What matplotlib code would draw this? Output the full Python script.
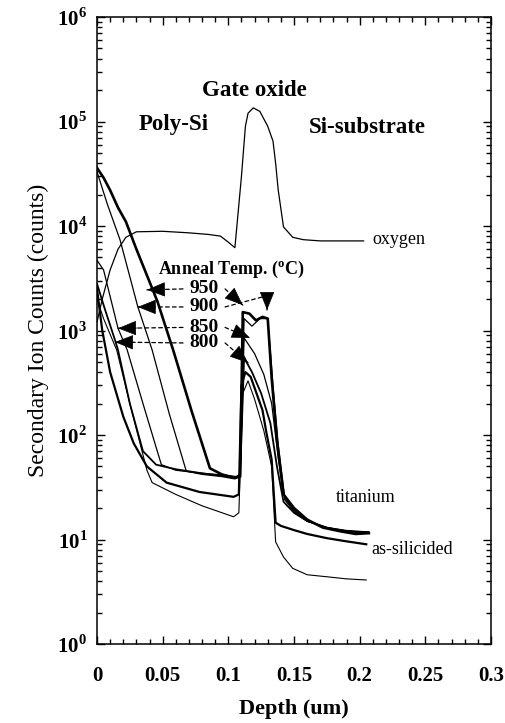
#!/usr/bin/env python

import numpy as np
import matplotlib
matplotlib.use('Agg')
import matplotlib.pyplot as plt
from matplotlib.ticker import FixedLocator, LogLocator, FuncFormatter, NullFormatter, MultipleLocator

# SIMS depth profiles (depth in um, secondary ion counts)
oxy_d = [0.0, 0.004, 0.01, 0.016, 0.022, 0.03, 0.05, 0.07, 0.085, 0.094, 0.1, 0.105,
         0.110, 0.113, 0.115, 0.119, 0.124, 0.130, 0.134, 0.136, 0.138, 0.142, 0.149,
         0.157, 0.17, 0.203]
oxy_c = [1.2e3, 2.0e3, 3.8e3, 6.0e3, 7.8e3, 8.8e3, 8.9e3, 8.6e3, 8.3e3, 8.0e3, 7.0e3, 6.2e3,
         3.0e4, 9.0e4, 1.2e5, 1.35e5, 1.25e5, 9.0e4, 6.5e4, 4.0e4, 2.2e4, 9.8e3, 7.8e3,
         7.4e3, 7.2e3, 7.2e3]

t950_d = [0, 0.005, 0.01, 0.016, 0.022, 0.03, 0.046, 0.058, 0.072, 0.086, 0.095, 0.104,
          0.109, 0.111, 0.116, 0.121, 0.126, 0.13, 0.133, 0.137, 0.142, 0.15, 0.16, 0.172,
          0.185, 0.197, 0.207]
t950_c = [3.6e4, 2.9e4, 2.2e4, 1.5e4, 1.1e4, 6e3, 1.9e3, 650, 170, 48, 42, 39,
          40, 1.5e3, 1.45e3, 1.25e3, 1.35e3, 1.3e3, 350, 90, 27, 20, 15.5, 13,
          12, 11.3, 11.5]

t900_d = [0, 0.008, 0.0175, 0.031, 0.042, 0.055, 0.068, 0.08, 0.095, 0.105, 0.109, 0.112,
          0.118, 0.124, 0.13, 0.134, 0.138, 0.143, 0.15, 0.16, 0.175, 0.19, 0.207]
t900_c = [3.3e4, 1.6e4, 7.4e3, 1.7e3, 650, 160, 45, 42, 40, 38, 40, 1.3e3,
          1.1e3, 1.3e3, 1.3e3, 300, 80, 25, 19, 15, 13, 12, 11.8]

t850_d = [0, 0.005, 0.016, 0.023, 0.035, 0.049, 0.06, 0.08, 0.1, 0.106, 0.109, 0.112,
          0.12, 0.127, 0.133, 0.138, 0.143, 0.15, 0.16, 0.175, 0.19, 0.207]
t850_c = [4.7e3, 3.8e3, 1.05e3, 650, 200, 52, 46, 43, 41, 40, 42, 850,
          600, 380, 200, 60, 24, 18.5, 15, 13, 12.2, 11.8]

t800_d = [0, 0.006, 0.0137, 0.016, 0.025, 0.035, 0.045, 0.06, 0.08, 0.1, 0.106, 0.109,
          0.112, 0.118, 0.125, 0.132, 0.137, 0.142, 0.15, 0.16, 0.175, 0.19, 0.207]
t800_c = [2.8e3, 1.6e3, 810, 650, 200, 70, 52, 47, 43, 40, 39, 41,
          550, 400, 250, 130, 50, 23, 18, 15, 13, 12, 11.5]

asil_d = [0, 0.004, 0.01, 0.02, 0.028, 0.038, 0.053, 0.078, 0.104, 0.108, 0.110, 0.113,
          0.117, 0.126, 0.129, 0.133, 0.136, 0.14, 0.15, 0.16, 0.175, 0.19, 0.205]
asil_c = [2.5e3, 1.0e3, 400, 150, 83, 50, 35, 28.5, 25.6, 27, 300, 400,
          360, 173, 105, 58, 14.5, 13.5, 12.3, 11.3, 10.3, 9.6, 9.0]

low_d = [0, 0.005, 0.015, 0.025, 0.038, 0.042, 0.06, 0.08, 0.104, 0.108, 0.111, 0.115,
         0.12, 0.127, 0.133, 0.136, 0.142, 0.149, 0.16, 0.175, 0.19, 0.205]
low_c = [2e3, 1.3e3, 650, 200, 46, 35, 27, 21, 16.5, 18, 250, 330,
         220, 110, 50, 9.5, 6.8, 5.3, 4.6, 4.4, 4.2, 4.1]

x_ticks = [0, 0.05, 0.1, 0.15, 0.2, 0.25, 0.3]
x_labels = ['0', '0.05', '0.1', '0.15', '0.2', '0.25', '0.3']
temps = ['950', '900', '850', '800']

plt.rcParams['font.family'] = ['Liberation Serif', 'DejaVu Serif']
plt.rcParams['mathtext.fontset'] = 'custom'
plt.rcParams['mathtext.rm'] = 'Liberation Serif:bold'
plt.rcParams['mathtext.bf'] = 'Liberation Serif:bold'

fig = plt.figure(figsize=(5.06, 7.23), dpi=100)
ax = fig.add_axes([97/506, 1 - 644/723, 394/506, 627/723])

ax.plot(oxy_d, oxy_c, color='k', lw=0.9)
ax.plot(t950_d, t950_c, color='k', lw=1.9)
ax.plot(t900_d, t900_c, color='k', lw=0.9)
ax.plot(t850_d, t850_c, color='k', lw=0.9)
ax.plot(t800_d, t800_c, color='k', lw=1.3)
ax.plot(asil_d, asil_c, color='k', lw=1.6)
ax.plot(low_d, low_c, color='k', lw=0.8)

ax.set_yscale('log')
ax.set_xlim(0, 0.3)
ax.set_ylim(1, 1e6)

ax.xaxis.set_major_locator(FixedLocator(x_ticks))
ax.set_xticklabels(x_labels, fontsize=15, fontweight='bold')
ax.xaxis.set_minor_locator(MultipleLocator(0.01))
ax.yaxis.set_major_locator(LogLocator(base=10, numticks=10))
ax.yaxis.set_minor_locator(LogLocator(base=10, subs=np.arange(2, 10), numticks=20))
ax.yaxis.set_minor_formatter(NullFormatter())
ax.yaxis.set_major_formatter(FuncFormatter(lambda v, _: r'$10^{%d}$' % round(np.log10(v))))
for t in ax.get_yticklabels():
    t.set_fontsize(15)

ax.tick_params(which='both', direction='in', top=True, right=True, width=1.0)
ax.tick_params(which='major', length=6)
ax.tick_params(which='minor', length=3.5)
ax.tick_params(axis='x', which='major', pad=16)
ax.tick_params(axis='y', which='major', pad=7)
for s in ax.spines.values():
    s.set_linewidth(1.1)

ax.set_xlabel('Depth (um)', fontsize=16, fontweight='bold', labelpad=9)
ax.set_ylabel('Secondary Ion Counts (counts)', fontsize=17, labelpad=6)

bold = dict(fontsize=16.5, fontweight='bold', ha='center', va='center')
ax.text(0.120, 2.0e5, 'Gate oxide', **bold)
ax.text(0.0586, 9.3e4, 'Poly-Si', **bold)
ax.text(0.206, 8.7e4, 'Si-substrate', **bold)
ax.text(0.2095, 7.5e3, 'oxygen', fontsize=13, ha='left', va='center')
ax.text(0.182, 25.5, 'titanium', fontsize=13, ha='left', va='center')
ax.text(0.209, 8.1, 'as-silicided', fontsize=13, ha='left', va='center')
ax.text(0.102, 3.8e3, r'Anneal Temp. ($^{\mathrm{o}}$C)', fontsize=13, fontweight='bold',
        ha='center', va='center')

# temperature labels with dashed leaders and solid arrow heads
lab_x = 0.0815
lab_y = [2.5e3, 1.68e3, 1.07e3, 760]
left_tip = [(0.038, 2.45e3), (0.031, 1.68e3), (0.016, 1.05e3), (0.0137, 775)]
right_tip = [(0.111, 1.75e3), (0.1295, 1.57e3), (0.1165, 850), (0.115, 490)]
dash = dict(arrowstyle='-', linestyle=(0, (3, 2.5)), color='k', lw=0.9,
            shrinkA=0, shrinkB=0)
head = dict(arrowstyle='-|>,head_length=0.75,head_width=0.3', color='k', lw=0.5,
            mutation_scale=16, shrinkA=0, shrinkB=0)


def back(p, q, f=0.25):
    # point a fraction f of the way from tip p back toward q (log y)
    x = p[0] + f * (q[0] - p[0])
    y = 10 ** (np.log10(p[1]) + f * (np.log10(q[1]) - np.log10(p[1])))
    return (x, y)


for lbl, ly, lt, rt in zip(temps, lab_y, left_tip, right_tip):
    ax.text(lab_x, ly, lbl, fontsize=14, fontweight='bold', ha='center', va='center')
    ls = (lab_x - 0.016, ly)
    rs = (lab_x + 0.016, ly)
    ax.annotate('', xy=lt, xytext=ls, arrowprops=dash)
    ax.annotate('', xy=lt, xytext=back(lt, ls, 0.3), arrowprops=head)
    if lbl == '900':
        ax.annotate('', xy=rt, xytext=rs,
                    arrowprops=dict(dash, connectionstyle='angle,angleA=15,angleB=90,rad=0'))
        ax.annotate('', xy=rt, xytext=(rt[0], rt[1] * 1.25), arrowprops=head)
    else:
        ax.annotate('', xy=rt, xytext=rs, arrowprops=dash)
        ax.annotate('', xy=rt, xytext=back(rt, rs, 0.3), arrowprops=head)

fig.savefig('out.png', dpi=100)
